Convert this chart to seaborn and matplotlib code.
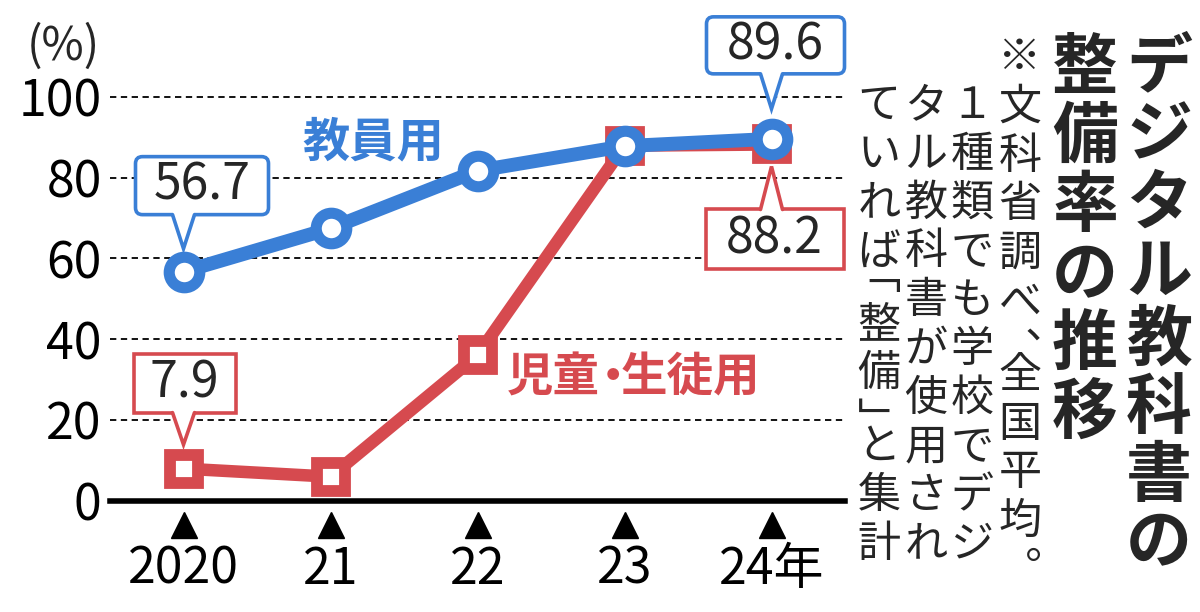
import matplotlib
matplotlib.use("Agg")
import matplotlib.pyplot as plt
import matplotlib.transforms as mtransforms
from matplotlib.patches import FancyBboxPatch, Polygon
import pandas as pd
import seaborn as sns

# data
years = [2020, 2021, 2022, 2023, 2024]
year_labels = ["2020", "21", "22", "23", "24年"]
teacher = [56.7, 67.4, 81.7, 87.8, 89.6]
student = [7.9, 5.9, 36.0, 87.9, 88.2]
series_names = ["児童・生徒用", "教員用"]
y_ticks = [0, 20, 40, 60, 80, 100]

title_cols = ["デジタル教科書の", "整備率の推移"]
note_cols = ["※文科省調べ、全国平均。", "１種類でも学校でデジ", "タル教科書が使用され", "ていれば「整備」と集計"]

BLUE = "#3a7fd6"
RED = "#d64a4f"
W, H = 1200, 612

sns.set_theme(style="white")
plt.rcParams["font.family"] = ["Noto Sans CJK JP", "DejaVu Sans"]

df = pd.DataFrame({
    "year": years * 2,
    "value": student + teacher,
    "series": [series_names[0]] * len(years) + [series_names[1]] * len(years),
})

fig = plt.figure(figsize=(W / 100, H / 100), dpi=100)
ax = fig.add_axes([110 / W, 1 - 500.5 / H, 735 / W, 444 / H])

sns.lineplot(
    data=df, x="year", y="value", hue="series", style="series",
    hue_order=series_names, style_order=series_names,
    palette={series_names[0]: RED, series_names[1]: BLUE},
    markers={series_names[0]: "s", series_names[1]: "o"},
    dashes=False, linewidth=10, markersize=21, legend=False, ax=ax,
)
for line in ax.lines:
    c = line.get_color()
    line.set_markeredgecolor(c)
    line.set_markerfacecolor("white")
    line.set_clip_on(False)
    if line.get_marker() == "s":
        line.set_markersize(20)
        line.set_markeredgewidth(8.5)
        line.set_linewidth(9)
        line.set_zorder(3)
    else:
        line.set_markersize(22)
        line.set_markeredgewidth(8)
        line.set_zorder(4)

ax.set_xlim(years[0] - 0.5, years[-1] + 0.5)
ax.set_ylim(0, 110)
ax.set_yticks(y_ticks)
ax.set_xticks(years, year_labels)
ax.set_xlabel("")
ax.set_ylabel("")
ax.yaxis.grid(True, linestyle=(0, (3.5, 2.5)), color="black", linewidth=1.3)
ax.xaxis.grid(False)
for s in ["left", "top", "right"]:
    ax.spines[s].set_visible(False)
ax.spines["bottom"].set_linewidth(4)
ax.spines["bottom"].set_color("black")
ax.tick_params(axis="y", length=0, pad=6, labelsize=36, labelcolor="black")
ax.tick_params(axis="x", length=0, pad=31, labelsize=36, labelcolor="black")

# triangles above the year labels
tri = mtransforms.offset_copy(ax.transData, fig=fig, y=-24.5, units="dots")
ax.plot(years, [0] * len(years), ls="none", marker="^", ms=19, color="black",
        transform=tri, clip_on=False)

ax.annotate("(%)", xy=(0, 100), xycoords=("axes fraction", "data"),
            xytext=(-7, 36), textcoords="offset points",
            ha="right", va="center", fontsize=33)

# series labels
ax.text(2021.29, 88.7, series_names[1], color=BLUE, fontsize=34, fontweight="bold",
        ha="center", va="center")
# the middle dot is set tight, as in the reference
head, dot, tail = series_names[0].partition("・")
for part, dx, ha in [(head, 0, "left"), (dot, 76, "center"), (tail, 82, "left")]:
    ax.annotate(part, xy=(2022.2, 30.4), xytext=(dx, 0), textcoords="offset points",
                color=RED, fontsize=33.5, fontweight="bold", ha=ha, va="center")


def callout(x, y, text, color, l, r, b, t, tip, rounded):
    # box edges and pointer tip in pixels relative to the data point (y up)
    trans = fig.dpi_scale_trans + mtransforms.ScaledTranslation(x, y, ax.transData)
    k = 0.01
    style = "round,pad=0,rounding_size=0.07" if rounded else "square,pad=0"
    ax.add_patch(FancyBboxPatch((l * k, b * k), (r - l) * k, (t - b) * k, boxstyle=style,
                                transform=trans, fc="white", ec=color, lw=2.6,
                                zorder=6, clip_on=False))
    hw = 11
    base = b if b > 0 else t
    inner = base + (3 if b > 0 else -3)
    ax.add_patch(Polygon([(-hw * k, inner * k), (hw * k, inner * k), (hw * k, base * k),
                          (0, tip * k), (-hw * k, base * k)], closed=True,
                         transform=trans, fc="white", ec="none", zorder=7, clip_on=False))
    ax.plot([-hw * k, 0, hw * k], [base * k, tip * k, base * k], color=color, lw=2.6,
            transform=trans, clip_on=False, zorder=8, solid_joinstyle="miter")
    ax.text((l + r) / 2 * k, (b + t) / 2 * k, text, transform=trans, ha="center",
            va="center", fontsize=36, zorder=9)


callout(years[0], teacher[0], f"{teacher[0]:.1f}", BLUE, -48, 85, 57, 115, 23, True)
callout(years[-1], teacher[-1], f"{teacher[-1]:.1f}", BLUE, -65, 73, 65, 122, 30, True)
callout(years[0], student[0], f"{student[0]:.1f}", RED, -50, 52, 56, 115, 24, False)
callout(years[-1], student[-1], f"{student[-1]:.1f}", RED, -66, 72, -125, -65, -22, False)

# vertical text
vertical_forms = {"、": "︑", "。": "︒", "「": "﹁", "」": "﹂"}


def vtext(cx, y0, text, size, pitch, **kw):
    cur = y0
    for ch in text:
        g = vertical_forms.get(ch, ch)
        if ch in "、」":
            cy = cur + pitch / 2
            cur += pitch / 2
        elif ch == "「":
            cy = cur
            cur += pitch / 2
        else:
            cy = cur + pitch / 2
            cur += pitch
        fig.text(cx / W, 1 - cy / H, g, ha="center", va="center", fontsize=size, **kw)


vtext(1159, 34, title_cols[0], 47.5, 68, fontweight="bold")
vtext(1085, 34, title_cols[1], 47.5, 69, fontweight="bold")
vtext(1020, 35, note_cols[0], 31, 48.7)
vtext(972, 82, note_cols[1], 31, 48.7)
vtext(926, 82, note_cols[2], 31, 48.7)
vtext(879, 82, note_cols[3], 31, 48.7)

fig.savefig("out.png", dpi=100)
